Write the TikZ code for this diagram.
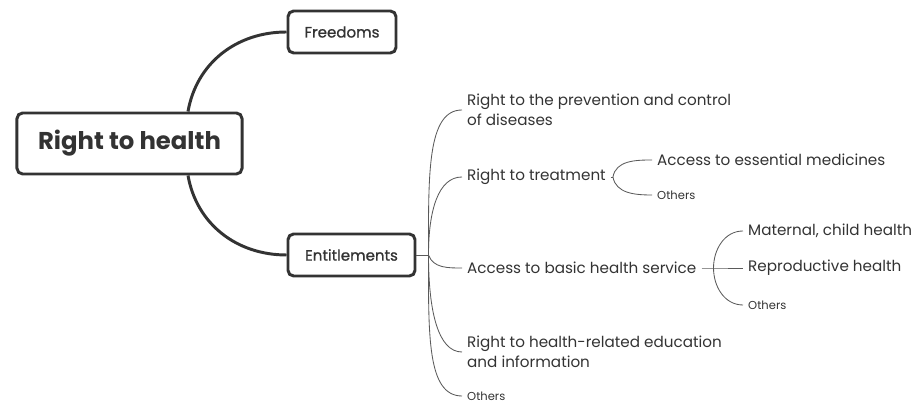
\documentclass[tikz,border=0pt]{standalone}
\usepackage{fontspec}
\setmainfont{Poppins}
\newfontfamily\medfont[FakeBold=1]{Poppins}
\definecolor{inkgray}{RGB}{51,51,51}
\definecolor{twiggray}{RGB}{90,90,90}
\usetikzlibrary{positioning, calc}

\begin{document}
\begin{tikzpicture}[
  x=0.025cm, y=0.025cm,
  rootbox/.style={draw=inkgray, line width=2.1pt, rounded corners=4pt, minimum width=5.625cm, minimum height=1.525cm, text=inkgray, font=\fontsize{17.3}{20}\selectfont\bfseries},
  mainbox/.style={draw=inkgray, line width=2.1pt, rounded corners=4pt, minimum height=1.05cm, text=inkgray, font=\fontsize{10.7}{12}\selectfont\medfont},
  limb/.style={draw=inkgray, line width=2.1pt},
  leaf/.style={anchor=west, inner xsep=3.5pt, inner ysep=1pt, align=left, text=inkgray, font=\fontsize{10.8}{14.2}\selectfont},
  tiny/.style={anchor=west, inner xsep=3.5pt, inner ysep=1pt, text=inkgray, font=\fontsize{8.2}{9}\selectfont},
  twig/.style={draw=twiggray, line width=0.6pt}
]
  \useasboundingbox (0,0) rectangle (921,405);
  \node[rootbox] (root) at (129.5,261.5) {Right to health};
  \node[mainbox, minimum width=2.7cm] (free) at (342,373) {Freedoms};
  \node[mainbox, minimum width=3.175cm] (ent) at (351.5,150) {Entitlements};
  \draw[limb] ($(root.north)+(58.5,0)$) to[out=80,in=180] (free.west);
  \draw[limb] ($(root.south)+(58.5,0)$) to[out=-80,in=180] (ent.west);

  \node[leaf] (prev) at (462,295) {Right to the prevention and control\\of diseases};
  \node[leaf] (treat) at (462,228) {Right to treatment};
  \node[leaf] (basic) at (462,137) {Access to basic health service};
  \node[leaf] (edu) at (462,53) {Right to health-related education\\and information};
  \node[tiny] (oth) at (462,9) {Others};
  \coordinate (ebr) at ($(ent.east)+(12,0)$);
  \draw[twig] (ent.east) -- (ebr);
  \draw[twig] (ebr) to[out=90,in=180,out distance=2cm,in distance=0.875cm] (prev.west);
  \draw[twig] (ebr) to[out=90,in=180,out distance=1.1cm,in distance=0.6cm] (treat.west);
  \draw[twig] (ebr) to[out=-70,in=180] (basic.west);
  \draw[twig] (ebr) to[out=-90,in=180,out distance=1.4cm,in distance=0.6cm] (edu.west);
  \draw[twig] (ebr) to[out=-90,in=180,out distance=2cm,in distance=0.875cm] (oth.west);

  \node[leaf] (med) at (652,245) {Access to essential medicines};
  \node[tiny] (othT) at (652,210) {Others};
  \coordinate (tbr) at ($(treat.east)+(2,0)$);
  \draw[twig] (treat.east) -- (tbr);
  \draw[twig] (tbr) to[out=80,in=180] (med.west);
  \draw[twig] (tbr) to[out=-80,in=180] (othT.west);

  \node[leaf] (mat) at (743,174) {Maternal, child health};
  \node[leaf] (repro) at (743,137) {Reproductive health};
  \node[tiny] (othB) at (743,100) {Others};
  \coordinate (bbr) at ($(basic.east)+(12,0)$);
  \draw[twig] (basic.east) -- (bbr) -- (repro.west);
  \draw[twig] (bbr) to[out=90,in=180] (mat.west);
  \draw[twig] (bbr) to[out=-90,in=180] (othB.west);
\end{tikzpicture}
\end{document}
